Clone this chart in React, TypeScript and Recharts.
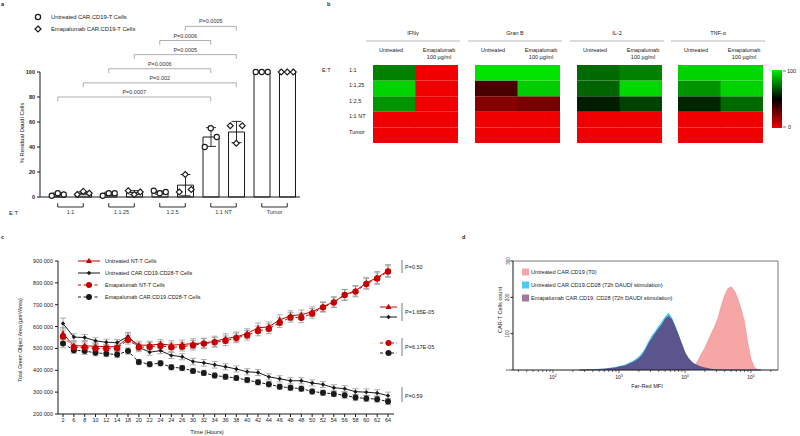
import React from "react";
import {
  Area,
  AreaChart,
  Bar,
  BarChart,
  Cell,
  ComposedChart,
  ErrorBar,
  Line,
  LineChart,
  ReferenceLine,
  Scatter,
  XAxis,
  YAxis,
} from "recharts";

const FONT = "'Liberation Sans', Arial, Helvetica, sans-serif";
const INK = "#1a1a1a";
const RED = "#c40000";
const GREY = "#8c8c8c";

// ---------- a: residual Daudi cells ----------
const killKeys = ["u-1:1", "e-1:1", "u-1:1.25", "e-1:1.25", "u-1:2.5", "e-1:2.5", "u-NT", "e-NT", "u-Tumor", "e-Tumor"];
const killTreatment = ["U", "E", "U", "E", "U", "E", "U", "E", "U", "E"];
const killMean = [2, 3, 2.5, 3.5, 3.5, 9.5, 48, 52, 100, 100];
const killSd = [1.2, 1.2, 1.3, 1.6, 1.2, 8.5, 7.5, 8.5, 0, 0];
const killRepA = [1, 2, 1, 5, 5, 4, 40, 57, 100, 100];
const killRepB = [3, 4.5, 3, 2, 3, 18, 55, 43, 100, 100];
const killRepC = [2, 3, 3, 4, 4, 6, 48, 57, 100, 100];
const etGroups = ["1:1", "1:1.25", "1:2.5", "1:1 NT", "Tumor"];
const sigTests = [
  ["u-1:1", "u-NT", "P=0.0007"],
  ["e-1:1", "e-NT", "P=0.002"],
  ["u-1:1.25", "u-NT", "P=0.0006"],
  ["e-1:1.25", "e-NT", "P=0.0005"],
  ["u-1:2.5", "u-NT", "P=0.0006"],
  ["e-1:2.5", "e-NT", "P=0.0005"],
];

const killData = killKeys.map((key, i) => ({
  key,
  treatment: killTreatment[i],
  mean: killMean[i],
  sd: killSd[i],
  a: killRepA[i],
  b: killRepB[i],
  c: killRepC[i],
}));

// ---------- b: cytokine heatmaps (0 = red, 50 = black, 100 = green) ----------
const heatRows = ["1:1", "1:1,25", "1:2,5", "1:1 NT", "Tumor"];
const heatColumns = ["Untreated", "Emapalumab"];
const ifngUntreated = [77, 94, 81, 0, 0];
const ifngEma = [0, 0, 0, 0, 0];
const granUntreated = [97, 35, 22, 0, 0];
const granEma = [97, 93, 25, 0, 0];
const il2Untreated = [72, 71, 56, 0, 0];
const il2Ema = [77, 95, 64, 0, 0];
const tnfUntreated = [94, 81, 58, 0, 0];
const tnfEma = [95, 94, 72, 0, 0];
const cytokines = [
  { name: "IFNγ", untreated: ifngUntreated, ema: ifngEma },
  { name: "Gran B", untreated: granUntreated, ema: granEma },
  { name: "IL-2", untreated: il2Untreated, ema: il2Ema },
  { name: "TNF-α", untreated: tnfUntreated, ema: tnfEma },
];

// ---------- c: green object area over time (thousands of µm²/Area) ----------
const timeLabels = ["2", "6", "8", "10", "12", "14", "18", "20", "22", "24", "24", "26", "30", "32", "34", "36", "38", "40", "42", "44", "46", "48", "48", "50", "52", "54", "56", "58", "60", "62", "64"];
const ntUntreated = [568, 512, 512, 510, 508, 508, 550, 515, 515, 520, 515, 518, 522, 525, 532, 545, 553, 568, 594, 599, 630, 650, 654, 668, 691, 713, 745, 764, 800, 824, 856];
const ntUntreatedErr = [28, 20, 20, 18, 18, 18, 22, 18, 18, 20, 20, 20, 22, 22, 24, 22, 22, 22, 22, 22, 24, 22, 22, 22, 22, 24, 25, 24, 25, 28, 28];
const carUntreated = [614, 552, 550, 535, 528, 527, 555, 505, 483, 490, 468, 462, 440, 434, 425, 416, 406, 393, 390, 370, 361, 352, 352, 342, 335, 320, 316, 302, 300, 296, 284];
const carUntreatedErr = [25, 15, 14, 14, 14, 14, 16, 14, 14, 14, 14, 14, 15, 15, 15, 14, 14, 14, 14, 14, 14, 14, 14, 14, 14, 14, 14, 14, 15, 15, 16];
const ntEma = [555, 505, 505, 500, 500, 502, 540, 505, 508, 512, 505, 508, 515, 522, 528, 535, 548, 560, 580, 590, 618, 642, 640, 660, 688, 710, 745, 760, 795, 820, 852];
const ntEmaErr = [25, 20, 20, 20, 18, 18, 20, 20, 20, 20, 20, 20, 22, 22, 22, 22, 22, 22, 22, 22, 22, 22, 22, 22, 22, 22, 24, 24, 24, 26, 26];
const carEma = [523, 492, 488, 480, 476, 472, 488, 438, 428, 432, 414, 410, 397, 388, 376, 370, 365, 355, 345, 336, 325, 320, 316, 303, 297, 292, 286, 275, 271, 268, 257];
const carEmaErr = [20, 15, 15, 14, 14, 14, 14, 12, 12, 12, 12, 12, 12, 12, 12, 12, 12, 12, 12, 12, 12, 12, 12, 12, 12, 12, 14, 14, 14, 14, 14];

const growthData = timeLabels.map((t, i) => ({
  idx: i,
  t,
  ntU: ntUntreated[i],
  ntUErr: ntUntreatedErr[i],
  carU: carUntreated[i],
  carUErr: carUntreatedErr[i],
  ntE: ntEma[i],
  ntEErr: ntEmaErr[i],
  carE: carEma[i],
  carEErr: carEmaErr[i],
}));

// ---------- d: Far-Red MFI histograms (x = log10 MFI) ----------
const logMfi = [2.4, 2.45, 2.5, 2.55, 2.6, 2.65, 2.7, 2.75, 2.8, 2.85, 2.9, 2.95, 3.0, 3.05, 3.1, 3.15, 3.2, 3.25, 3.3, 3.35, 3.4, 3.45, 3.5, 3.55, 3.6, 3.65, 3.7, 3.75, 3.8, 3.85, 3.9, 3.95, 4.0, 4.05, 4.1, 4.15, 4.2, 4.25, 4.3, 4.35, 4.4, 4.45, 4.5, 4.55, 4.6, 4.65, 4.7, 4.75, 4.8, 4.85, 4.9, 4.95, 5.0, 5.05, 5.1, 5.15];
const t0Counts = [0, 0, 0, 0, 0, 0, 0, 0, 0, 0, 0, 0, 0, 0, 0, 0, 0, 0, 0, 0, 0, 0, 0, 0, 0, 0, 0, 0, 0, 0, 0, 0, 0, 1, 4, 12, 27, 45, 60, 80, 101, 120, 142, 176, 204, 224, 229, 218, 197, 168, 134, 76, 30, 8, 1, 0];
const untreated72Counts = [0, 0, 1, 0, 1, 2, 1, 3, 3, 5, 6, 7, 10, 12, 14, 19, 23, 29, 36, 46, 60, 78, 94, 106, 120, 132, 146, 156, 143, 122, 96, 70, 46, 30, 20, 13, 9, 6, 4, 2, 1, 1, 0, 0, 0, 0, 0, 0, 0, 0, 0, 0, 0, 0, 0, 0];
const ema72Counts = [0, 0, 0, 1, 1, 1, 2, 2, 3, 4, 5, 6, 8, 10, 12, 16, 20, 25, 31, 40, 54, 72, 86, 100, 113, 124, 140, 148, 139, 118, 96, 72, 48, 33, 23, 16, 12, 8, 6, 4, 2, 1, 0, 0, 0, 0, 0, 0, 0, 0, 0, 0, 0, 0, 0, 0];

const flowData = logMfi.map((x, i) => ({
  logMfi: x,
  t0: t0Counts[i],
  untreated: untreated72Counts[i],
  ema: ema72Counts[i],
}));

const flowTicks: number[] = [];
for (let d = 1; d <= 5; d++) {
  for (let k = 1; k <= 9; k++) {
    const v = d + Math.log10(k);
    if (v >= 1.394 && v <= 5.41) flowTicks.push(v);
  }
}

// ---------- helpers ----------
function heatColor(v: number) {
  if (v >= 50) return `rgb(0,${Math.round(((v - 50) / 50) * 240)},0)`;
  return `rgb(${Math.round(((50 - v) / 50) * 240)},0,0)`;
}

function repShape(dx: number) {
  return (props: any) => {
    const { cx, cy, payload } = props;
    if (cx == null || cy == null) return <g />;
    const x = cx + dx;
    if (payload && payload.treatment === "U") {
      return <circle cx={x} cy={cy} r={2.6} fill="#fff" stroke={INK} strokeWidth={1.1} />;
    }
    return <path d={`M${x},${cy - 3} L${x + 3},${cy} L${x},${cy + 3} L${x - 3},${cy} Z`} fill="#fff" stroke={INK} strokeWidth={1.1} />;
  };
}

const TriDot = (p: any) =>
  p.cx == null ? <g /> : <path d={`M${p.cx},${p.cy - 3.2} L${p.cx + 3},${p.cy + 2} L${p.cx - 3},${p.cy + 2} Z`} fill={RED} />;
const DiamondDot = (p: any) =>
  p.cx == null ? <g /> : <path d={`M${p.cx},${p.cy - 2.2} L${p.cx + 2.2},${p.cy} L${p.cx},${p.cy + 2.2} L${p.cx - 2.2},${p.cy} Z`} fill={INK} />;
const RedCircle = (p: any) => (p.cx == null ? <g /> : <circle cx={p.cx} cy={p.cy} r={3.2} fill={RED} />);
const BlackCircle = (p: any) => (p.cx == null ? <g /> : <circle cx={p.cx} cy={p.cy} r={3} fill={INK} />);

const LogTick = (props: any) => {
  const { x, y, payload } = props;
  const v = payload.value;
  const major = Math.abs(v - Math.round(v)) < 1e-6;
  return (
    <g>
      <line x1={x} x2={x} y1={y} y2={y + (major ? 3 : 2)} stroke={INK} strokeWidth={0.6} />
      {major && (
        <text x={x} y={y + 9} textAnchor="middle" fontSize={5} fill={INK}>
          10
          <tspan dy={-2} fontSize={3.6}>
            {Math.round(v)}
          </tspan>
        </text>
      )}
    </g>
  );
};

const CountTick = (props: any) => {
  const { x, y, payload } = props;
  return (
    <text x={x} y={y} transform={`rotate(-90 ${x} ${y})`} textAnchor="middle" fontSize={4.6} fill={INK}>
      {payload.value}
    </text>
  );
};

function HeatBlock({ untreated, ema }: { untreated: number[]; ema: number[] }) {
  const data = heatColumns.map((col) => {
    const row: Record<string, any> = { col };
    heatRows.forEach((_, ri) => (row[`r${ri}`] = 1));
    return row;
  });
  const vals = [untreated, ema];
  const bottomUp = [4, 3, 2, 1, 0];
  return (
    <BarChart width={85} height={78} data={data} margin={{ top: 0, right: 0, bottom: 0, left: 0 }} barCategoryGap={0} barGap={0}>
      <XAxis dataKey="col" hide />
      <YAxis hide domain={[0, 5]} />
      {bottomUp.map((ri) => (
        <Bar key={ri} dataKey={`r${ri}`} stackId="s" isAnimationActive={false}>
          {data.map((_, ci) => (
            <Cell key={ci} fill={heatColor(vals[ci][ri])} />
          ))}
        </Bar>
      ))}
    </BarChart>
  );
}

function Glyph({ x1, x2, y, color, dash, mark }: { x1: number; x2: number; y: number; color: string; dash?: string; mark: string }) {
  const m = (x1 + x2) / 2;
  return (
    <g>
      <line x1={x1} x2={x2} y1={y} y2={y} stroke={color} strokeWidth={1} strokeDasharray={dash} />
      {mark === "tri" && <path d={`M${m},${y - 3.2} L${m + 3},${y + 2} L${m - 3},${y + 2} Z`} fill={color} />}
      {mark === "dia" && <path d={`M${m},${y - 2.2} L${m + 2.2},${y} L${m},${y + 2.2} L${m - 2.2},${y} Z`} fill={color} />}
      {mark === "dot" && <circle cx={m} cy={y} r={3} fill={color} />}
    </g>
  );
}

const growthLegend = [
  { label: "Untreated NT-T Cells", color: RED, dash: undefined, mark: "tri" },
  { label: "Untreated CAR.CD19.CD28-T Cells", color: INK, dash: undefined, mark: "dia" },
  { label: "Emapalumab NT-T Cells", color: RED, dash: "3 2.5", mark: "dot" },
  { label: "Emapalumab CAR.CD19.CD28-T Cells", color: INK, dash: "3 2.5", mark: "dot" },
];

const flowLegend = [
  { label: "Untreated CAR.CD19 (T0)", color: "#f6a6a6" },
  { label: "Untreated CAR.CD19.CD28  (72h DAUDI stimulation)", color: "#4dc9f2" },
  { label: "Emapalumab CAR.CD19. CD28 (72h DAUDI stimulation)", color: "#a4789a" },
];

const heatLefts = [373, 475, 577, 678];
const txt = { fontFamily: FONT, fill: INK } as const;

export default function App() {
  return (
    <div style={{ position: "fixed", left: 0, top: 0, width: 800, height: 436, background: "#fff", fontFamily: FONT, overflow: "hidden" }}>
      {/* a */}
      <div style={{ position: "absolute", left: 0, top: 0 }}>
        <ComposedChart width={310} height={225} data={killData} margin={{ top: 72, right: 10, bottom: 18, left: 0 }}>
          <XAxis dataKey="key" type="category" height={10} tick={false} tickLine={false} axisLine={{ stroke: INK }} padding={{ left: 5, right: 0 }} />
          <YAxis
            width={40}
            domain={[0, 100]}
            ticks={[0, 20, 40, 60, 80, 100]}
            tick={{ fontSize: 5.5, fill: INK, fontWeight: 700 }}
            tickSize={3}
            tickMargin={2}
            axisLine={{ stroke: INK }}
            tickLine={{ stroke: INK }}
          />
          <Bar dataKey="mean" barSize={16} fill="#fff" stroke={INK} strokeWidth={1} isAnimationActive={false}>
            <ErrorBar dataKey="sd" width={5} stroke={INK} strokeWidth={0.9} />
          </Bar>
          <Scatter dataKey="a" shape={repShape(-6)} isAnimationActive={false} />
          <Scatter dataKey="b" shape={repShape(0)} isAnimationActive={false} />
          <Scatter dataKey="c" shape={repShape(6)} isAnimationActive={false} />
          {sigTests.flatMap(([from, to, p], i) => {
            const lvl = 80 + i * 11.3;
            return [
              <ReferenceLine
                key={`h${i}`}
                segment={[{ x: from, y: lvl }, { x: to, y: lvl }]}
                stroke="#9a9a9a"
                strokeWidth={0.8}
                ifOverflow="visible"
                label={{ value: p, position: "top", fontSize: 5.5, fill: "#333", offset: 3 }}
              />,
              <ReferenceLine key={`l${i}`} segment={[{ x: from, y: lvl }, { x: from, y: lvl - 3.5 }]} stroke="#9a9a9a" strokeWidth={0.8} ifOverflow="visible" />,
              <ReferenceLine key={`r${i}`} segment={[{ x: to, y: lvl }, { x: to, y: lvl - 3.5 }]} stroke="#9a9a9a" strokeWidth={0.8} ifOverflow="visible" />,
            ];
          })}
          {etGroups.flatMap((g, i) => {
            const from = killKeys[2 * i];
            const to = killKeys[2 * i + 1];
            return [
              <ReferenceLine
                key={`g${i}`}
                segment={[{ x: from, y: -8 }, { x: to, y: -8 }]}
                stroke={INK}
                strokeWidth={0.9}
                ifOverflow="visible"
                label={{ value: g, position: "bottom", fontSize: 5.5, fill: "#333", offset: 3 }}
              />,
              <ReferenceLine key={`gl${i}`} segment={[{ x: from, y: -8 }, { x: from, y: -4.8 }]} stroke={INK} strokeWidth={0.9} ifOverflow="visible" />,
              <ReferenceLine key={`gr${i}`} segment={[{ x: to, y: -8 }, { x: to, y: -4.8 }]} stroke={INK} strokeWidth={0.9} ifOverflow="visible" />,
            ];
          })}
        </ComposedChart>
      </div>

      {/* b */}
      {cytokines.map((c, i) => (
        <div key={c.name} style={{ position: "absolute", left: heatLefts[i], top: 65 }}>
          <HeatBlock untreated={c.untreated} ema={c.ema} />
        </div>
      ))}

      {/* c */}
      <div style={{ position: "absolute", left: 0, top: 250 }}>
        <LineChart width={400} height={180} data={growthData} margin={{ top: 11, right: 6, bottom: 0, left: 0 }}>
          <XAxis
            dataKey="idx"
            type="category"
            interval={0}
            height={16}
            padding={{ left: 5, right: 6 }}
            tickFormatter={(v: any) => timeLabels[v]}
            tick={{ fontSize: 5.5, fill: INK }}
            tickSize={3}
            tickMargin={1}
            axisLine={{ stroke: INK }}
            tickLine={{ stroke: INK }}
          />
          <YAxis
            width={58}
            domain={[200, 900]}
            ticks={[200, 300, 400, 500, 600, 700, 800, 900]}
            tickFormatter={(v: any) => `${v} 000`}
            tick={{ fontSize: 5.5, fill: INK }}
            tickSize={3}
            tickMargin={2}
            axisLine={{ stroke: INK }}
            tickLine={{ stroke: INK }}
          />
          <Line dataKey="carU" stroke={INK} strokeWidth={1} dot={DiamondDot} activeDot={false} isAnimationActive={false}>
            <ErrorBar dataKey="carUErr" width={3} stroke={GREY} strokeWidth={0.7} direction="y" />
          </Line>
          <Line dataKey="carE" stroke={INK} strokeWidth={1} strokeDasharray="3 2.5" dot={BlackCircle} activeDot={false} isAnimationActive={false}>
            <ErrorBar dataKey="carEErr" width={3} stroke={GREY} strokeWidth={0.7} direction="y" />
          </Line>
          <Line dataKey="ntU" stroke={RED} strokeWidth={1} dot={TriDot} activeDot={false} isAnimationActive={false}>
            <ErrorBar dataKey="ntUErr" width={3} stroke={GREY} strokeWidth={0.7} direction="y" />
          </Line>
          <Line dataKey="ntE" stroke={RED} strokeWidth={1} strokeDasharray="3 2.5" dot={RedCircle} activeDot={false} isAnimationActive={false}>
            <ErrorBar dataKey="ntEErr" width={3} stroke={GREY} strokeWidth={0.7} direction="y" />
          </Line>
        </LineChart>
      </div>

      {/* d */}
      <div style={{ position: "absolute", left: 490, top: 250 }}>
        <AreaChart width={300} height={140} data={flowData} margin={{ top: 11, right: 12, bottom: 0, left: 0 }}>
          <XAxis
            dataKey="logMfi"
            type="number"
            domain={[1.394, 5.41]}
            allowDataOverflow
            ticks={flowTicks}
            interval={0}
            tick={<LogTick />}
            tickLine={false}
            tickSize={0}
            tickMargin={0}
            height={20}
            axisLine={{ stroke: INK }}
          />
          <YAxis
            width={23}
            domain={[0, 300]}
            ticks={[0, 50, 100, 150, 200, 250, 300]}
            tick={<CountTick />}
            tickSize={2.5}
            tickMargin={1}
            axisLine={{ stroke: INK }}
            tickLine={{ stroke: INK }}
          />
          <Area dataKey="t0" type="linear" stroke="#ee8a8a" strokeWidth={0.6} fill="#f7a6a6" fillOpacity={1} isAnimationActive={false} activeDot={false} />
          <Area dataKey="untreated" type="linear" stroke="#2fb6e6" strokeWidth={0.6} fill="#4cc8f0" fillOpacity={1} isAnimationActive={false} activeDot={false} />
          <Area dataKey="ema" type="linear" stroke="#4a3f78" strokeWidth={0.6} fill="#5b4f87" fillOpacity={0.95} isAnimationActive={false} activeDot={false} />
        </AreaChart>
      </div>

      {/* annotations */}
      <svg width={800} height={436} style={{ position: "absolute", left: 0, top: 0, pointerEvents: "none" }}>
        <defs>
          <linearGradient id="heatGrad" x1="0" y1="0" x2="0" y2="1">
            <stop offset="0" stopColor="rgb(0,240,0)" />
            <stop offset="0.5" stopColor="#000" />
            <stop offset="1" stopColor="rgb(240,0,0)" />
          </linearGradient>
        </defs>

        {/* panel letters */}
        <g style={txt} fontSize={5.5} fontWeight={700}>
          <text x={1} y={6}>a</text>
          <text x={327} y={6}>b</text>
          <text x={1} y={239}>c</text>
          <text x={462} y={239}>d</text>
        </g>

        {/* a legend + labels */}
        <circle cx={38} cy={17} r={2.6} fill="#fff" stroke={INK} strokeWidth={1.2} />
        <path d="M38,26 L41,29 L38,32 L35,29 Z" fill="#fff" stroke={INK} strokeWidth={1.2} />
        <g style={txt} fontSize={5.8} dominantBaseline="central">
          <text x={51} y={17}>Untreated CAR.CD19-T Cells</text>
          <text x={51} y={29}>Emapalumab CAR.CD19-T Cells</text>
          <text x={9} y={213}>E:T</text>
        </g>
        <text x={22} y={133} transform="rotate(-90 22 133)" textAnchor="middle" dominantBaseline="central" fontSize={5.8} style={txt}>
          % Residual Daudi Cells
        </text>

        {/* b headers */}
        {cytokines.map((c, i) => {
          const l = heatLefts[i];
          return (
            <g key={c.name} style={txt} fontSize={5.5} textAnchor="middle">
              <text x={l + 40} y={35}>{c.name}</text>
              <line x1={l - 7} x2={l + 87} y1={41} y2={41} stroke="#b5b5b5" strokeWidth={1} />
              <text x={l + 18} y={52}>{heatColumns[0]}</text>
              <text x={l + 66} y={52}>{heatColumns[1]}</text>
              <text x={l + 66} y={59}>100 µg/ml</text>
            </g>
          );
        })}
        <g style={txt} fontSize={5.5} dominantBaseline="central">
          <text x={322} y={69.5}>E:T</text>
          {heatRows.map((r, i) => (
            <text key={r} x={349} y={69.5 + 15.5 * i}>
              {r}
            </text>
          ))}
        </g>
        <rect x={772} y={70} width={10} height={58} fill="url(#heatGrad)" />
        <line x1={783} x2={786} y1={71} y2={71} stroke={INK} strokeWidth={0.6} />
        <line x1={783} x2={786} y1={127} y2={127} stroke={INK} strokeWidth={0.6} />
        <g style={txt} fontSize={5.5} dominantBaseline="central">
          <text x={787} y={71}>100</text>
          <text x={788} y={127}>0</text>
        </g>

        {/* c legend + labels */}
        {growthLegend.map((g, i) => (
          <g key={g.label}>
            <Glyph x1={78} x2={100} y={261 + 12 * i} color={g.color} dash={g.dash} mark={g.mark} />
            <text x={105} y={261 + 12 * i} fontSize={5.5} dominantBaseline="central" style={txt}>
              {g.label}
            </text>
          </g>
        ))}
        <text x={20} y={340} transform="rotate(-90 20 340)" textAnchor="middle" dominantBaseline="central" fontSize={5.3} style={txt}>
          Total Green Object Area (µm²/Area)
        </text>
        <text x={207} y={432} textAnchor="middle" dominantBaseline="central" fontSize={5.8} style={txt}>
          Time (Hours)
        </text>
        <g stroke="#555" strokeWidth={0.8}>
          <line x1={402} x2={402} y1={260} y2={273} />
          <line x1={402} x2={402} y1={303} y2={321} />
          <line x1={402} x2={402} y1={338} y2={356} />
          <line x1={402} x2={402} y1={387} y2={402} />
        </g>
        <Glyph x1={380} x2={397} y={307} color={RED} mark="tri" />
        <Glyph x1={380} x2={397} y={317} color={INK} mark="dia" />
        <Glyph x1={380} x2={397} y={343} color={RED} dash="3 2.5" mark="dot" />
        <Glyph x1={380} x2={397} y={353} color={INK} dash="3 2.5" mark="dot" />
        <g style={txt} fontSize={5.5} dominantBaseline="central">
          <text x={405} y={267}>P=0.50</text>
          <text x={405} y={312}>P=1.65E-05</text>
          <text x={405} y={347}>P=6.17E-05</text>
          <text x={405} y={396}>P=0.59</text>
        </g>

        {/* d frame, legend, labels */}
        <line x1={513} x2={778} y1={261} y2={261} stroke="#555" strokeWidth={0.8} />
        <line x1={778} x2={778} y1={261} y2={370} stroke="#555" strokeWidth={0.8} />
        {flowLegend.map((f, i) => (
          <g key={f.label}>
            <rect x={522} y={268.5 + 13 * i} width={7} height={7} fill={f.color} />
            <text x={531} y={272 + 13 * i} fontSize={5.6} dominantBaseline="central" style={txt}>
              {f.label}
            </text>
          </g>
        ))}
        <text x={500} y={310} transform="rotate(-90 500 310)" textAnchor="middle" dominantBaseline="central" fontSize={5.6} style={txt}>
          CAR-T Cells count
        </text>
        <text x={647} y={386} textAnchor="middle" dominantBaseline="central" fontSize={5.6} style={txt}>
          Far-Red MFI
        </text>
      </svg>
    </div>
  );
}
